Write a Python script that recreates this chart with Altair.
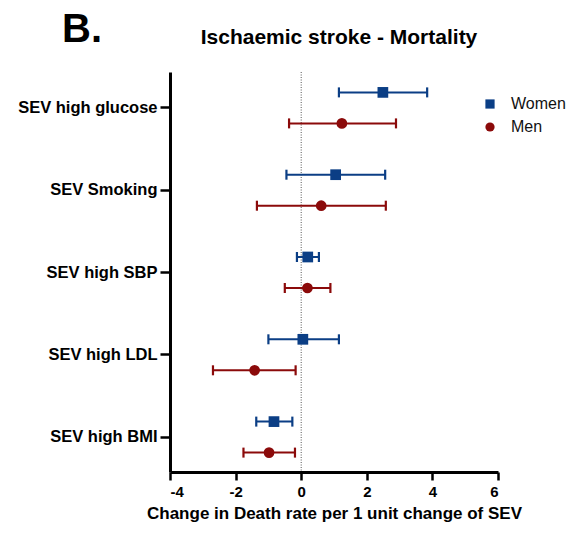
import altair as alt
import pandas as pd

factors = ["SEV high glucose", "SEV Smoking", "SEV high SBP", "SEV high LDL", "SEV high BMI"]
sexes = ["Women", "Men"]

women_est = [2.49, 1.05, 0.20, 0.05, -0.83]
women_lo = [1.15, -0.45, -0.13, -1.00, -1.37]
women_hi = [3.84, 2.56, 0.54, 1.15, -0.27]

men_est = [1.24, 0.61, 0.19, -1.42, -0.98]
men_lo = [-0.37, -1.35, -0.50, -2.69, -1.76]
men_hi = [2.89, 2.58, 0.89, -0.17, -0.19]

rows = []
for i, f in enumerate(factors):
    rows.append({"factor": f, "sex": "Women", "est": women_est[i], "lo": women_lo[i], "hi": women_hi[i]})
    rows.append({"factor": f, "sex": "Men", "est": men_est[i], "lo": men_lo[i], "hi": men_hi[i]})
df = pd.DataFrame(rows)

FONT = "Liberation Sans"
BLUE = "#0b3e85"
RED = "#8b0a0a"

xscale = alt.Scale(domain=[-4, 6], nice=False, zero=False)
yscale = alt.Scale(domain=factors, type="point", padding=0.43)

xenc = alt.X("est:Q", scale=xscale,
             axis=alt.Axis(values=[-4, -2, 0, 2, 4, 6], title="Change in Death rate per 1 unit change of SEV",
                           grid=False, labelExpr="'' + datum.value"))
yenc = alt.Y("factor:N", scale=yscale, sort=factors, axis=alt.Axis(title=None, grid=False))

base = alt.Chart(df)

zero = alt.Chart(pd.DataFrame({"z": [0]})).mark_rule(
    color="#555555", strokeWidth=1, strokeDash=[1, 1.5]
).encode(x=alt.X("z:Q", scale=xscale))

legend = alt.Legend(title=None, orient="none", legendX=312, legendY=24,
                    labelFontSize=16, labelFont=FONT, labelColor="#111111", symbolSize=85,
                    labelOffset=13, rowPadding=7, padding=0, symbolStrokeWidth=0)

layers = [zero]
offsets = {"Women": -15, "Men": 16}
colors = {"Women": BLUE, "Men": RED}
for s in sexes:
    sub = base.transform_filter(alt.datum.sex == s)
    off = offsets[s]
    c = colors[s]
    line = sub.mark_rule(color=c, strokeWidth=2, yOffset=off).encode(
        x=alt.X("lo:Q", scale=xscale), x2="hi:Q", y=yenc)
    cap_lo = sub.mark_point(shape="M0,-1L0,1", color=c, strokeWidth=2.2, size=100, filled=False,
                            yOffset=off, opacity=1).encode(x=alt.X("lo:Q", scale=xscale), y=yenc)
    cap_hi = sub.mark_point(shape="M0,-1L0,1", color=c, strokeWidth=2.2, size=100, filled=False,
                            yOffset=off, opacity=1).encode(x=alt.X("hi:Q", scale=xscale), y=yenc)
    pts = sub.mark_point(filled=True, opacity=1, size=115, yOffset=off).encode(
        x=xenc, y=yenc,
        color=alt.Color("sex:N", scale=alt.Scale(domain=sexes, range=[BLUE, RED]), legend=legend),
        shape=alt.Shape("sex:N", scale=alt.Scale(domain=sexes, range=["square", "circle"]), legend=legend),
    )
    layers += [line, cap_lo, cap_hi, pts]

blabel = alt.Chart(pd.DataFrame({"t": ["B."]})).mark_text(
    fontSize=40, fontWeight="bold", font=FONT, align="left", baseline="alphabetic", color="black"
).encode(text="t:N", x=alt.value(-108), y=alt.value(-30))
tlabel = alt.Chart(pd.DataFrame({"t": ["Ischaemic stroke - Mortality"]})).mark_text(
    fontSize=21, fontWeight="bold", font=FONT, align="center", baseline="alphabetic", color="black"
).encode(text="t:N", x=alt.value(169), y=alt.value(-28))
layers += [blabel, tlabel]

chart = alt.layer(*layers).properties(
    width=328, height=400,
    autosize=alt.AutoSizeParams(type="none"),
    padding={"left": 162, "top": 64, "right": 73, "bottom": 56},
).configure_view(stroke=None).configure_axis(
    domainColor="black", domainWidth=3, tickColor="black", tickWidth=2.5,
    labelFont=FONT, labelFontWeight="bold", labelColor="black",
    titleFont=FONT, titleFontWeight="bold", titleColor="black",
).configure_axisY(
    tickSize=10, labelFontSize=16.5, labelPadding=3,
).configure_axisX(
    tickSize=8, labelFontSize=15, labelPadding=4, titleFontSize=17, titlePadding=6,
)

chart.save("out.html", embed_options={"renderer": "svg", "actions": False})
